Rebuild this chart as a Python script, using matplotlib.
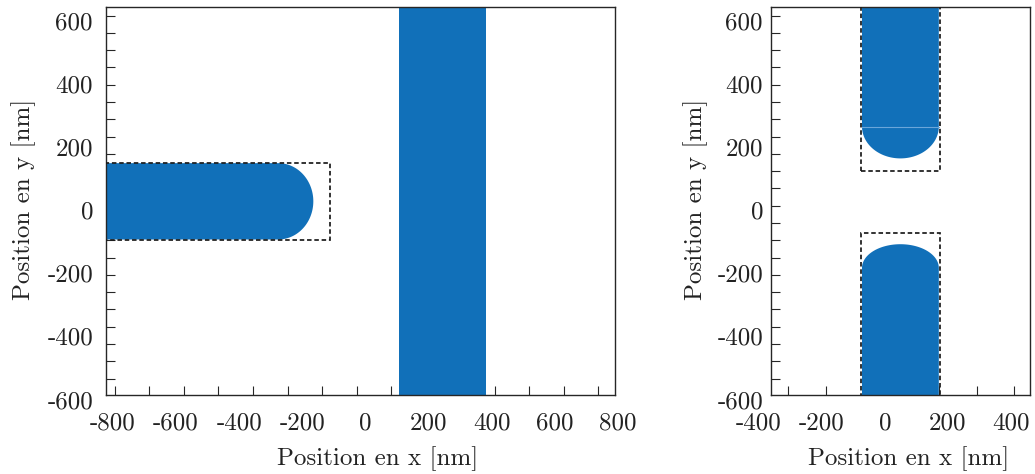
import numpy as np
import matplotlib
matplotlib.use('Agg')
import matplotlib.pyplot as plt
from matplotlib.patches import Polygon
from matplotlib.transforms import blended_transform_factory, offset_copy

plt.rcParams['font.family'] = ['cmr10', 'DejaVu Serif']
plt.rcParams['axes.unicode_minus'] = False

BLUE = '#1170b9'
SEAM = '#6aa6da'
DARK = '#262626'
FS = 18

# ---- tick labels (nm) ----
x_labels_left = [-800, -600, -400, -200, 0, 200, 400, 600, 800]
x_labels_right = [-400, -200, 0, 200, 400]
y_labels = [600, 400, 200, 0, -200, -400, -600]
x_title = 'Position en x [nm]'
y_title = 'Position en y [nm]'

# ---- view limits (nm) ----
xlim_left = (-822, 791)
xlim_right = (-362, 459)
ylim = (-585, 646)

# ---- minor tick marks (nm) ----
xticks_left = -793.7 + 109.4 * np.arange(15)
xticks_right = -307.0 + 119.6 * np.arange(7)
yticks = 618.9 - 54.8 * np.arange(22)

# ---- left panel geometry (nm) ----
rod_left_x = (-900, -276)      # straight part start / cap start
rod_left_cap = 111             # cap depth
rod_left_y = (-91, 151)
box_left_x = (-900, -112)
box_left_y = (-93, 151)
bar_left_x = (106, 382)

# ---- right panel geometry (nm) ----
rod_x = (-73, 171)
rod_top_y = (900, 267)         # far end / cap start
rod_top_cap = 101
seam_y = 267
box_top_y = (126, 900)
rod_bot_y = (-900, -181)
rod_bot_cap = 75
box_bot_y = (-900, -71)
box_x = (-76, 175)


def capsule_h(x0, xc, depth, y0, y1, n=80):
    yc, b = (y0 + y1) / 2, (y1 - y0) / 2
    t = np.linspace(-np.pi / 2, np.pi / 2, n)
    pts = [(x0, y0), (xc, y0)]
    pts += list(zip(xc + depth * np.cos(t), yc + b * np.sin(t)))
    pts += [(xc, y1), (x0, y1)]
    return pts


def capsule_v(y0, yc, depth, x0, x1, n=80):
    # y0: far end, yc: cap start; cap points away from y0
    sgn = 1 if yc > y0 else -1
    xm, a = (x0 + x1) / 2, (x1 - x0) / 2
    t = np.linspace(np.pi, 0, n)
    pts = [(x0, y0), (x0, yc)]
    pts += list(zip(xm + a * np.cos(t), yc + sgn * depth * np.sin(t)))
    pts += [(x1, yc), (x1, y0)]
    return pts


def rect(x, y):
    return [(x[0], y[0]), (x[1], y[0]), (x[1], y[1]), (x[0], y[1])]


fig = plt.figure(figsize=(10.35, 4.74), dpi=100)
B, H = 1 - 395.3 / 474, 388.3 / 474
axL = fig.add_axes([106 / 1035, B, 509 / 1035, H])
axR = fig.add_axes([771 / 1035, B, 258.5 / 1035, H])

dash = dict(fill=False, edgecolor='#1a1a1a', lw=1.25, linestyle=(0, (2.6, 1.6)), zorder=3)

# left panel
axL.add_patch(Polygon(capsule_h(rod_left_x[0], rod_left_x[1], rod_left_cap, *rod_left_y),
                      closed=True, facecolor=BLUE, edgecolor='none', zorder=2))
axL.add_patch(Polygon(rect(bar_left_x, (-900, 900)), closed=True,
                      facecolor=BLUE, edgecolor='none', zorder=2))
axL.add_patch(Polygon(rect(box_left_x, box_left_y), closed=True, **dash))

# right panel
axR.add_patch(Polygon(capsule_v(rod_top_y[0], rod_top_y[1], rod_top_cap, *rod_x),
                      closed=True, facecolor=BLUE, edgecolor='none', zorder=2))
axR.plot(rod_x, [seam_y, seam_y], color=SEAM, lw=0.8, zorder=2.5)
axR.add_patch(Polygon(capsule_v(rod_bot_y[0], rod_bot_y[1], rod_bot_cap, *rod_x),
                      closed=True, facecolor=BLUE, edgecolor='none', zorder=2))
axR.add_patch(Polygon(rect(box_x, box_top_y), closed=True, **dash))
axR.add_patch(Polygon(rect(box_x, box_bot_y), closed=True, **dash))

for ax, xl, xt, xlabs, ypad, ylab_x in [
        (axL, xlim_left, xticks_left, x_labels_left, 13, -0.161),
        (axR, xlim_right, xticks_right, x_labels_right, 8, -0.292)]:
    ax.set_xlim(*xl)
    ax.set_ylim(*ylim)
    ax.set_xticks(xt)
    ax.set_yticks(yticks)
    ax.tick_params(direction='in', length=6.5, width=0.8, color=DARK,
                   labelbottom=False, labelleft=False, top=False, right=False)
    for s in ax.spines.values():
        s.set_color(DARK)
        s.set_linewidth(1.0)
    tx = offset_copy(blended_transform_factory(ax.transData, ax.transAxes),
                     fig=fig, x=0, y=-34.7, units='dots')
    for v in xlabs:
        ax.text(v, 0, str(v), transform=tx, ha='center', va='baseline',
                fontsize=FS, color='#222222', clip_on=False)
    ty = offset_copy(blended_transform_factory(ax.transAxes, ax.transData),
                     fig=fig, x=-ypad, y=-8, units='dots')
    for v in y_labels:
        ax.text(0, v, str(v), transform=ty, ha='right', va='baseline',
                fontsize=FS, color='#222222', clip_on=False)
    ax.text(0.533, -0.1795, x_title, transform=ax.transAxes, ha='center',
            va='baseline', fontsize=FS, color='#222222')
    ax.text(ylab_x, 0.505, y_title, transform=ax.transAxes, ha='center',
            va='center', rotation=90, fontsize=FS, color='#222222')

fig.savefig('out.png', dpi=100)
